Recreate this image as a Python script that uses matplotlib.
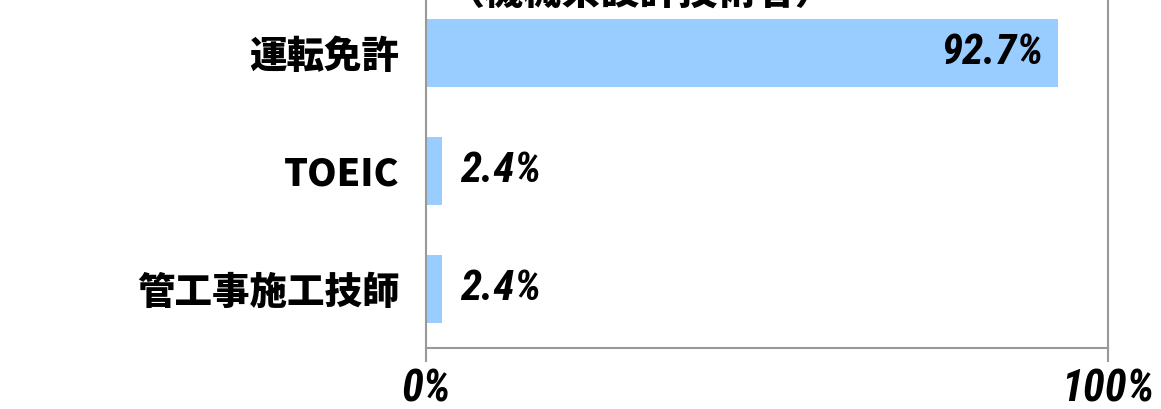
import matplotlib.pyplot as plt

plt.rcParams['font.family'] = ['Noto Sans CJK JP', 'DejaVu Sans']

# data
categories = ['運転免許', 'TOEIC', '管工事施工技師']
values = [92.7, 2.4, 2.4]
title = '（機械系設計技術者）'

num_family = ['Roboto Condensed', 'DejaVu Sans']

W, H = 1161, 409
fig = plt.figure(figsize=(W / 100, H / 100), dpi=100)
# plot area runs a little above the top edge of the image
ax = fig.add_axes([426 / W, (H - 348) / H, (1108 - 426) / W, (348 + 6) / H])

ypos = list(range(len(categories)))[::-1]
ax.barh(ypos, values, height=0.576, color='#99CCFF', zorder=2)
ax.set_ylim(-0.5, len(categories) - 0.5)
ax.set_xlim(0, 100)

ax.set_yticks(ypos)
ax.set_yticklabels(categories, fontsize=27, fontweight='heavy')
ax.tick_params(axis='y', length=0, pad=19)

ax.set_xticks([0, 100])
ax.set_xticklabels(['0%', '100%'], fontsize=32, fontweight='bold', style='italic',
                   family=num_family)
ax.tick_params(axis='x', length=10, width=1.5, color='#999999', pad=5)

for s in ax.spines.values():
    s.set_color('#999999')
    s.set_linewidth(1.5)

lab_font = dict(fontsize=31, fontweight='bold', style='italic',
                family=num_family, va='center')
for y, v in zip(ypos, values):
    if v > 50:
        ax.text(v - 2.2, y, f'{v}%', ha='right', **lab_font)
    else:
        ax.text(v + 2.6, y, f'{v}%', ha='left', **lab_font)

fig.text(640 / W, (H - 4) / H, title, ha='center', va='baseline',
         fontsize=28, fontweight='heavy')

fig.savefig('out.png', dpi=100)
